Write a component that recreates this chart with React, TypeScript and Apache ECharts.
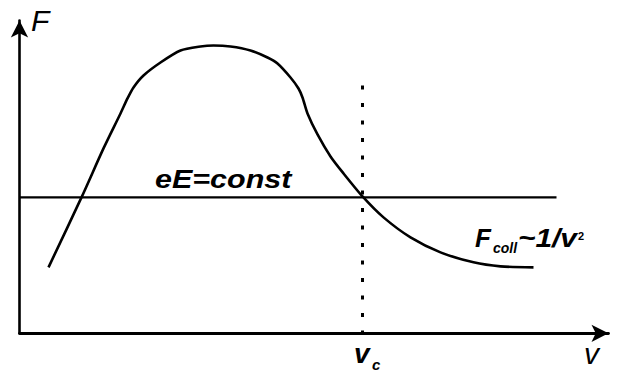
import React, { useEffect, useRef } from "react";
import * as echarts from "echarts";

// Curve F(v): x = velocity units, y = force units (axis origin at 0,0)
const curveX = [29, 62, 84, 101, 108, 114, 124, 141, 161, 181, 194, 211, 231, 248, 258, 271, 279, 283, 288, 298, 311, 324, 343, 364, 391, 421, 454, 481, 514];
const curveY = [66, 136, 185, 220, 235, 246, 258, 271, 283, 287, 288, 287, 283, 276, 270, 256, 245, 236, 220, 199, 177, 160, 137, 116, 96, 81, 71, 67, 66];

// eE = const level and its extent
const eELevel = 136;
const eEStartX = 0;
const eEEndX = 537;

// critical velocity v_c and top of dotted marker
const vcX = 343;
const vcTopY = 248;

const xMax = 589;
const yMax = 313;

export default function App() {
  const ref = useRef<HTMLDivElement>(null);
  useEffect(() => {
    if (!ref.current) return;
    const chart = echarts.init(ref.current, undefined, { renderer: "svg" });
    const font = "'Liberation Sans', Arial, sans-serif";
    chart.setOption({
      animation: false,
      backgroundColor: "#ffffff",
      grid: { left: 19.5, right: 11.5, top: 20.5, bottom: 38.7 },
      xAxis: {
        type: "value",
        min: 0,
        max: xMax,
        axisLine: {
          show: true,
          onZero: false,
          symbol: ["none", "arrow"],
          symbolSize: [13, 17],
          lineStyle: { color: "#000", width: 2.8 },
        },
        axisTick: { show: false },
        axisLabel: { show: false },
        splitLine: { show: false },
      },
      yAxis: {
        type: "value",
        min: 0,
        max: yMax,
        axisLine: {
          show: true,
          onZero: false,
          symbol: ["none", "arrow"],
          symbolSize: [13, 17],
          lineStyle: { color: "#000", width: 2.6 },
        },
        axisTick: { show: false },
        axisLabel: { show: false },
        splitLine: { show: false },
      },
      series: [
        {
          type: "line",
          data: curveX.map((x, i) => [x, curveY[i]]),
          smooth: 0.25,
          showSymbol: false,
          lineStyle: { color: "#000", width: 2.6 },
          z: 3,
        },
        {
          type: "line",
          data: [
            [eEStartX, eELevel],
            [eEEndX, eELevel],
          ],
          showSymbol: false,
          lineStyle: { color: "#000", width: 2.4 },
          z: 2,
        },
        {
          type: "line",
          data: [
            [vcX, vcTopY],
            [vcX, 0],
          ],
          showSymbol: false,
          lineStyle: { color: "#000", width: 3, type: [4, 13.5] },
          z: 2,
        },
      ],
      graphic: [
        {
          type: "text",
          x: 31,
          y: 20,
          style: { text: "F", font: `italic 30px ${font}`, fill: "#000", verticalAlign: "middle", align: "left" },
        },
        {
          type: "text",
          x: 584,
          y: 353.5,
          style: { text: "v", font: `italic 30px ${font}`, fill: "#000", verticalAlign: "middle", align: "left" },
        },
        {
          type: "text",
          x: 354,
          y: 353,
          style: { text: "v", font: `italic bold 28px ${font}`, fill: "#000", verticalAlign: "middle", align: "left" },
        },
        {
          type: "text",
          x: 372,
          y: 364,
          style: { text: "c", font: `italic bold 15px ${font}`, fill: "#000", verticalAlign: "middle", align: "left" },
        },
        {
          type: "text",
          x: 155,
          y: 179,
          scaleX: 1.22,
          style: { text: "eE=const", font: `italic bold 25px ${font}`, fill: "#000", verticalAlign: "middle", align: "left" },
        },
        {
          type: "text",
          x: 475,
          y: 238,
          style: { text: "F", font: `italic bold 26px ${font}`, fill: "#000", verticalAlign: "middle", align: "left" },
        },
        {
          type: "text",
          x: 493,
          y: 248,
          style: { text: "coll", font: `italic bold 14px ${font}`, fill: "#000", verticalAlign: "middle", align: "left" },
        },
        {
          type: "text",
          x: 518,
          y: 238,
          scaleX: 1.15,
          style: { text: "~1/v", font: `italic bold 26px ${font}`, fill: "#000", verticalAlign: "middle", align: "left" },
        },
        {
          type: "text",
          x: 578,
          y: 236,
          style: { text: "2", font: `bold 11px ${font}`, fill: "#000", verticalAlign: "middle", align: "left" },
        },
      ],
    });
    return () => chart.dispose();
  }, []);
  return (
    <div
      ref={ref}
      style={{ position: "fixed", left: 0, top: 0, width: 620, height: 372, background: "#fff" }}
    />
  );
}
